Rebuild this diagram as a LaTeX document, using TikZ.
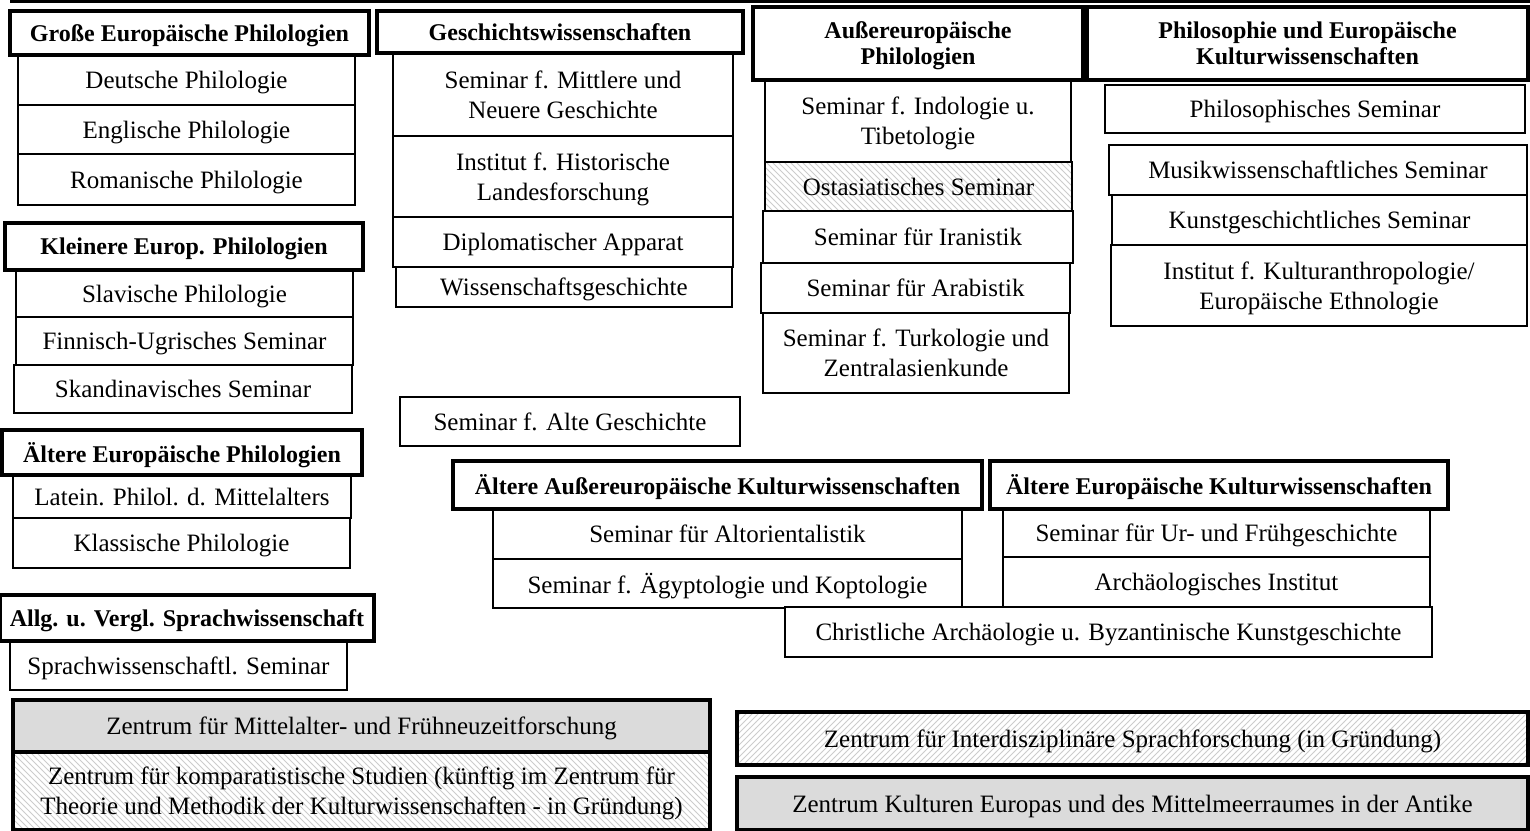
\documentclass[tikz,border=0pt]{standalone}
\usepackage{fontspec}
\setmainfont{Liberation Serif}
\usetikzlibrary{patterns}
\newcommand{\bx}[7]{\node[#2, minimum width={(#5-#3)*0.5pt}, minimum height={(#6-#4)*0.5pt}] (#1) at ({(#3+#5)/2},{(#4+#6)/2}) {#7};}
\tikzset{
  base/.style={draw=black, inner sep=0pt, outer sep=0pt, align=center, fill=white, text depth=0pt},
  unit/.style={base, line width=1pt, font=\fontsize{12.5}{15}\selectfont},
  head/.style={base, line width=1.6pt, font=\fontsize{12}{13}\selectfont\bfseries},
  hatchNW/.style={preaction={fill=white}, pattern=north west lines, pattern color=black!20},
  hatchNE/.style={preaction={fill=white}, pattern=north east lines, pattern color=black!20},
  grayfill/.style={fill=black!14},
  centre/.style={base, line width=1.6pt, font=\fontsize{12.5}{15}\selectfont},
  topline/.style={line width=1.5pt},
}
\begin{document}
\begin{tikzpicture}[x=0.5pt,y=-0.5pt]
\useasboundingbox (0,0) rectangle (1530,830);
\coordinate (tl) at (10,1);
\coordinate (tr) at (1530,1);
\draw[topline] (tl) -- (tr);
% Column 1
\bx{dt}{unit}{18}{55}{355}{105}{Deutsche Philologie}
\bx{en}{unit}{18}{105}{355}{154}{Englische Philologie}
\bx{ro}{unit}{18}{154}{355}{205}{Romanische Philologie}
\bx{gep}{head}{10}{11}{369}{55}{Große Europäische Philologien}
\bx{sl}{unit}{16}{270}{353}{317}{Slavische Philologie}
\bx{fu}{unit}{16}{317}{353}{365}{Finnisch-Ugrisches Seminar}
\bx{sk}{unit}{14}{365}{352}{413}{Skandinavisches Seminar}
\bx{kep}{head}{5}{223}{363}{270}{Kleinere Europ. Philologien}
\bx{la}{unit}{13}{475}{351}{518}{Latein. Philol. d. Mittelalters}
\bx{kl}{unit}{13}{518}{350}{568}{Klassische Philologie}
\bx{aep}{head}{2}{430}{362}{475}{Ältere Europäische Philologien}
\bx{sw}{unit}{10}{641}{347}{690}{Sprachwissenschaftl. Seminar}
\bx{avs}{head}{0}{595}{374}{641}{Allg. u. Vergl. Sprachwissenschaft}
% Column 2
\bx{mn}{unit}{393}{53}{733}{136}{Seminar f. Mittlere und\\Neuere Geschichte}
\bx{hl}{unit}{393}{136}{733}{217}{Institut f. Historische\\Landesforschung}
\bx{da}{unit}{393}{217}{733}{267}{Diplomatischer Apparat}
\bx{wg}{unit}{396}{267}{732}{307}{Wissenschaftsgeschichte}
\bx{gw}{head}{377}{11}{743}{53}{Geschichtswissenschaften}
\bx{ag}{unit}{400}{397}{740}{446}{Seminar f. Alte Geschichte}
% Column 3
\bx{in}{unit}{765}{80}{1071}{162}{Seminar f. Indologie u.\\Tibetologie}
\bx{oa}{unit,hatchNW}{765}{162}{1072}{211}{Ostasiatisches Seminar}
\bx{ir}{unit}{763}{211}{1073}{263}{Seminar für Iranistik}
\bx{ar}{unit}{761}{263}{1070}{313}{Seminar für Arabistik}
\bx{tu}{unit}{763}{313}{1069}{393}{Seminar f. Turkologie und\\Zentralasienkunde}
\bx{ap}{head}{753}{7}{1083}{80}{Außereuropäische\\Philologien}
% Column 4
\bx{ps}{unit}{1105}{85}{1525}{133}{Philosophisches Seminar}
\bx{mu}{unit}{1109}{145}{1527}{195}{Musikwissenschaftliches Seminar}
\bx{ku}{unit}{1112}{195}{1527}{245}{Kunstgeschichtliches Seminar}
\bx{ka}{unit}{1111}{245}{1527}{326}{Institut f. Kulturanthropologie/\\Europäische Ethnologie}
\bx{pk}{head}{1087}{7}{1528}{80}{Philosophie und Europäische\\Kulturwissenschaften}
% Lower middle
\bx{alt}{unit}{493}{509}{962}{559}{Seminar für Altorientalistik}
\bx{aeg}{unit}{493}{559}{962}{608}{Seminar f. Ägyptologie und Koptologie}
\bx{aak}{head}{453}{461}{982}{509}{Ältere Außereuropäische Kulturwissenschaften}
\bx{ur}{unit}{1003}{509}{1430}{557}{Seminar für Ur- und Frühgeschichte}
\bx{arch}{unit}{1003}{557}{1430}{607}{Archäologisches Institut}
\bx{ch}{unit}{785}{607}{1432}{657}{Christliche Archäologie u. Byzantinische Kunstgeschichte}
\bx{aek}{head}{990}{461}{1448}{509}{Ältere Europäische Kulturwissenschaften}
% Zentren
\bx{zm}{centre,grayfill}{13}{700}{710}{752}{Zentrum für Mittelalter- und Frühneuzeitforschung}
\bx{zk}{centre,hatchNW}{13}{752}{710}{830}{Zentrum für komparatistische Studien (künftig im Zentrum für\\Theorie und Methodik der Kulturwissenschaften - in Gründung)}
\bx{zi}{centre,hatchNE}{737}{712}{1528}{765}{Zentrum für Interdisziplinäre Sprachforschung (in Gründung)}
\bx{zka}{centre,grayfill}{737}{777}{1528}{830}{Zentrum Kulturen Europas und des Mittelmeerraumes in der Antike}
\end{tikzpicture}
\end{document}
